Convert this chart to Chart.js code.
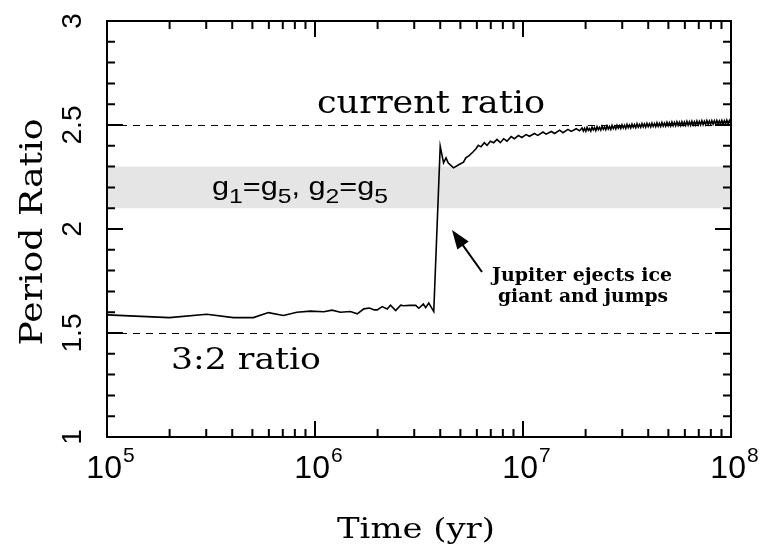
<!DOCTYPE html>
<html>
<head>
<meta charset="utf-8">
<script src="https://cdn.jsdelivr.net/npm/chart.js@4.4.1/dist/chart.umd.min.js"></script>
<style>
  html, body { margin: 0; padding: 0; background: #fff; }
  canvas { display: block; }
</style>
</head>
<body>
<canvas id="ratioChart" width="763" height="553"></canvas>
<script>
// log10 of time in years
var logYears = [
    5.000, 5.300, 5.480, 5.607, 5.704, 5.776, 5.848, 5.913, 5.977, 6.042,
    6.082, 6.122, 6.170, 6.203, 6.235, 6.262, 6.285, 6.299, 6.323, 6.347,
    6.363, 6.388, 6.412, 6.426, 6.455, 6.484, 6.499, 6.521, 6.532, 6.547,
    6.571,
    6.602, 6.618, 6.630, 6.640, 6.666, 6.693, 6.714, 6.725, 6.741, 6.758,
    6.774, 6.785, 6.798, 6.814, 6.827, 6.843, 6.859, 6.875, 6.891, 6.907,
    6.923, 6.943, 6.959, 6.978, 6.994, 7.015, 7.031, 7.055, 7.071, 7.096,
    7.111, 7.136, 7.152, 7.176, 7.192, 7.216, 7.232, 7.256, 7.272,
    7.284, 7.290, 7.296, 7.302, 7.308, 7.314, 7.320, 7.326, 7.332, 7.338,
    7.344, 7.350, 7.356, 7.362, 7.368, 7.374, 7.380, 7.386, 7.392, 7.398,
    7.404, 7.410, 7.416, 7.422, 7.428, 7.434, 7.440, 7.446, 7.452, 7.458,
    7.464, 7.470, 7.476, 7.482, 7.488, 7.494, 7.500, 7.506, 7.512, 7.518,
    7.524, 7.530, 7.536, 7.542, 7.548, 7.554, 7.560, 7.566, 7.572, 7.578,
    7.584, 7.590, 7.596, 7.602, 7.608, 7.614, 7.620, 7.626, 7.632, 7.638,
    7.644, 7.650, 7.656, 7.662, 7.668, 7.674, 7.680, 7.686, 7.692, 7.698,
    7.704, 7.710, 7.716, 7.722, 7.728, 7.734, 7.740, 7.746, 7.752, 7.758,
    7.764, 7.770, 7.776, 7.782, 7.788, 7.794, 7.800, 7.806, 7.812, 7.818,
    7.824, 7.830, 7.836, 7.842, 7.848, 7.854, 7.860, 7.866, 7.872, 7.878,
    7.884, 7.890, 7.896, 7.902, 7.908, 7.914, 7.920, 7.926, 7.932, 7.938,
    7.944, 7.950, 7.956, 7.962, 7.968, 7.974, 7.980, 7.986, 7.992, 7.998,
    8.000
];
// Jupiter / Saturn period ratio
var periodRatio = [
    1.587, 1.574, 1.590, 1.574, 1.574, 1.598, 1.584, 1.600, 1.605, 1.602,
    1.610, 1.600, 1.603, 1.592, 1.616, 1.620, 1.611, 1.611, 1.627, 1.615,
    1.634, 1.608, 1.634, 1.631, 1.633, 1.633, 1.619, 1.639, 1.622, 1.644,
    1.603,
    2.398, 2.318, 2.342, 2.318, 2.294, 2.310, 2.321, 2.342, 2.353, 2.369,
    2.386, 2.402, 2.395, 2.415, 2.402, 2.422, 2.415, 2.431, 2.415, 2.434,
    2.422, 2.444, 2.434, 2.450, 2.440, 2.454, 2.446, 2.459, 2.450, 2.466,
    2.456, 2.469, 2.459, 2.475, 2.463, 2.479, 2.469, 2.482, 2.472,
    2.486, 2.471, 2.484, 2.470, 2.489, 2.474, 2.483, 2.471, 2.490, 2.476,
    2.487, 2.473, 2.492, 2.478, 2.489, 2.476, 2.494, 2.479, 2.491, 2.477,
    2.496, 2.481, 2.493, 2.479, 2.498, 2.483, 2.495, 2.481, 2.499, 2.485,
    2.497, 2.483, 2.501, 2.486, 2.499, 2.484, 2.503, 2.487, 2.500, 2.486,
    2.504, 2.489, 2.502, 2.487, 2.506, 2.490, 2.503, 2.489, 2.507, 2.491,
    2.505, 2.490, 2.508, 2.492, 2.506, 2.491, 2.509, 2.493, 2.507, 2.492,
    2.511, 2.494, 2.508, 2.493, 2.512, 2.495, 2.509, 2.494, 2.513, 2.496,
    2.511, 2.495, 2.514, 2.497, 2.512, 2.496, 2.515, 2.498, 2.513, 2.497,
    2.516, 2.499, 2.514, 2.498, 2.517, 2.499, 2.515, 2.499, 2.518, 2.500,
    2.516, 2.500, 2.519, 2.501, 2.517, 2.501, 2.520, 2.502, 2.518, 2.502,
    2.521, 2.503, 2.519, 2.503, 2.521, 2.504, 2.520, 2.504, 2.522, 2.505,
    2.520, 2.505, 2.522, 2.505, 2.521, 2.506, 2.523, 2.506, 2.521, 2.507,
    2.514
];

var xDecades = [1e5, 1e6, 1e7, 1e8];
var xExponents = ['5', '6', '7', '8'];
var yTickValues = [1, 1.5, 2, 2.5, 3];
var yTickLabels = ['1', '1.5', '2', '2.5', '3'];
var band = [2.1, 2.3];          // g1=g5, g2=g5 zone
var currentRatio = 2.5;
var resonance32 = 1.5;

var points = [];
for (var i = 0; i < logYears.length; i++) {
    points.push({ x: Math.pow(10, logYears[i]), y: periodRatio[i] });
}

var SERIF = '"DejaVu Serif", serif';
var SANS = '"Liberation Sans", Arial, sans-serif';

// draws text stretched horizontally to a given width (the original font is wide)
function fitText(ctx, text, font, x, y, width, rotated) {
    ctx.save();
    ctx.font = font;
    var w = ctx.measureText(text).width;
    ctx.translate(x, y);
    if (rotated) ctx.rotate(-Math.PI / 2);
    ctx.scale(width / w, 1);
    ctx.textAlign = 'center';
    ctx.textBaseline = 'alphabetic';
    ctx.fillText(text, 0, 0);
    ctx.restore();
}

var framePlugin = {
    id: 'frame',
    beforeDatasetsDraw: function (chart) {
        var ctx = chart.ctx, a = chart.chartArea;
        var ys = chart.scales.y;
        ctx.save();
        // shaded band
        var top = ys.getPixelForValue(band[1]), bot = ys.getPixelForValue(band[0]);
        ctx.fillStyle = '#e5e5e5';
        ctx.fillRect(a.left, top, a.right - a.left, bot - top);
        // dashed reference lines
        ctx.strokeStyle = '#000';
        ctx.lineWidth = 1;
        ctx.setLineDash([7, 6]);
        [currentRatio, resonance32].forEach(function (v) {
            var py = Math.round(ys.getPixelForValue(v)) + 0.5;
            ctx.beginPath();
            ctx.moveTo(a.left, py);
            ctx.lineTo(a.right, py);
            ctx.stroke();
        });
        ctx.restore();
    },
    afterDatasetsDraw: function (chart) {
        var ctx = chart.ctx, a = chart.chartArea;
        var xs = chart.scales.x, ys = chart.scales.y;
        ctx.save();
        ctx.strokeStyle = '#000';
        ctx.fillStyle = '#000';
        ctx.lineWidth = 2;
        ctx.strokeRect(a.left, a.top, a.right - a.left, a.bottom - a.top);

        // x ticks, pointing inward on bottom and top
        ctx.beginPath();
        for (var d = 0; d < xDecades.length; d++) {
            for (var m = 1; m <= 9; m++) {
                var v = xDecades[d] * m;
                if (v > 1e8) break;
                var px = xs.getPixelForValue(v);
                var len = m === 1 ? 16 : 8;
                ctx.moveTo(px, a.bottom);
                ctx.lineTo(px, a.bottom - len);
                ctx.moveTo(px, a.top);
                ctx.lineTo(px, a.top + len);
            }
        }
        // y ticks every 0.1
        for (var k = 10; k <= 30; k++) {
            var py = ys.getPixelForValue(k / 10);
            var l = k % 5 === 0 ? 16 : 8;
            ctx.moveTo(a.left, py);
            ctx.lineTo(a.left + l, py);
            ctx.moveTo(a.right, py);
            ctx.lineTo(a.right - l, py);
        }
        ctx.stroke();

        // x tick labels 10^n
        ctx.textBaseline = 'alphabetic';
        ctx.textAlign = 'left';
        for (var j = 0; j < xDecades.length; j++) {
            var cx = xs.getPixelForValue(xDecades[j]);
            ctx.font = '32px ' + SANS;
            var w1 = ctx.measureText('10').width;
            ctx.font = '21px ' + SANS;
            var w2 = ctx.measureText(xExponents[j]).width;
            var x0 = cx - (w1 + w2) / 2 + 3;
            ctx.font = '32px ' + SANS;
            ctx.fillText('10', x0, a.bottom + 41);
            ctx.font = '21px ' + SANS;
            ctx.fillText(xExponents[j], x0 + w1 + 1, a.bottom + 25);
        }

        // y tick labels, rotated
        ctx.font = '28px ' + SANS;
        ctx.textAlign = 'center';
        for (var t = 0; t < yTickValues.length; t++) {
            ctx.save();
            ctx.translate(a.left - 26, ys.getPixelForValue(yTickValues[t]));
            ctx.rotate(-Math.PI / 2);
            ctx.fillText(yTickLabels[t], 0, 0);
            ctx.restore();
        }

        // axis titles
        fitText(ctx, 'Time (yr)', '27px ' + SERIF, 416, 538, 158, false);
        fitText(ctx, 'Period Ratio', '31px ' + SERIF, 42, 232, 227, true);

        // annotations
        fitText(ctx, 'current ratio', '31px ' + SERIF, 431, 113, 228, false);
        fitText(ctx, '3:2 ratio', '29px ' + SERIF, 246, 369, 150, false);

        // g1=g5, g2=g5 with subscripts
        var parts = [['g', 0], ['1', 1], ['=', 0], ['g', 0], ['5', 1], [', ', 0],
                     ['g', 0], ['2', 1], ['=', 0], ['g', 0], ['5', 1]];
        var total = 0;
        parts.forEach(function (p) {
            ctx.font = (p[1] ? '21px ' : '26px ') + SANS;
            total += ctx.measureText(p[0]).width;
        });
        ctx.save();
        ctx.translate(212, 195);
        ctx.scale(176 / total, 1);
        ctx.textAlign = 'left';
        var gx = 0;
        parts.forEach(function (p) {
            ctx.font = (p[1] ? '21px ' : '26px ') + SANS;
            ctx.fillText(p[0], gx, p[1] ? 8 : 0);
            gx += ctx.measureText(p[0]).width;
        });
        ctx.restore();

        // jump label and arrow
        fitText(ctx, 'Jupiter ejects ice', 'bold 19px ' + SERIF, 582, 281, 180, false);
        fitText(ctx, 'giant and jumps', 'bold 19px ' + SERIF, 583, 302, 170, false);

        var tx = 452, ty = 230, fx = 482, fy = 272;
        var ang = Math.atan2(ty - fy, tx - fx);
        ctx.lineWidth = 2;
        ctx.beginPath();
        ctx.moveTo(fx, fy);
        ctx.lineTo(tx - 14 * Math.cos(ang), ty - 14 * Math.sin(ang));
        ctx.stroke();
        ctx.beginPath();
        ctx.moveTo(tx, ty);
        ctx.lineTo(tx - 19 * Math.cos(ang) + 7 * Math.sin(ang), ty - 19 * Math.sin(ang) - 7 * Math.cos(ang));
        ctx.lineTo(tx - 19 * Math.cos(ang) - 7 * Math.sin(ang), ty - 19 * Math.sin(ang) + 7 * Math.cos(ang));
        ctx.closePath();
        ctx.fill();
        ctx.restore();
    }
};

var ctx = document.getElementById('ratioChart').getContext('2d');
var ratioChart = new Chart(ctx, {
    type: 'line',
    data: {
        datasets: [{
            data: points,
            borderColor: '#000',
            borderWidth: 1.6,
            pointRadius: 0,
            tension: 0,
            fill: false
        }]
    },
    options: {
        responsive: false,
        animation: false,
        devicePixelRatio: 1,
        layout: { padding: { left: 107, right: 32, top: 21, bottom: 116 } },
        plugins: { legend: { display: false }, tooltip: { enabled: false } },
        scales: {
            x: { type: 'logarithmic', min: 1e5, max: 1e8, display: false },
            y: { type: 'linear', min: 1, max: 3, display: false }
        }
    },
    plugins: [framePlugin]
});
</script>
</body>
</html>
